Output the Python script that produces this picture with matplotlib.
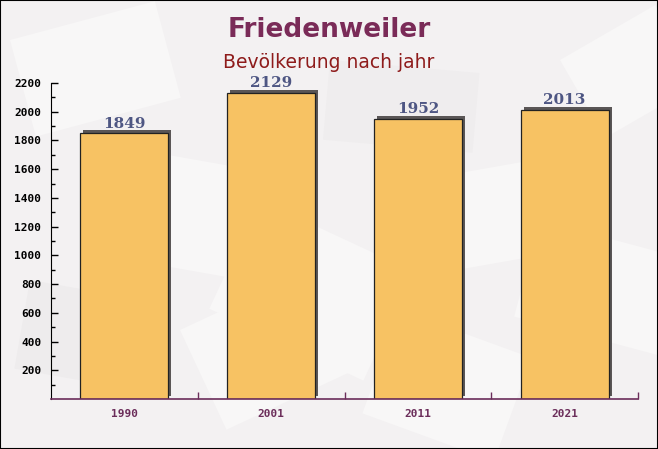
import matplotlib.pyplot as plt
import matplotlib.transforms as mtransforms
from matplotlib.patches import Rectangle
import numpy as np

# data
years = ['1990', '2001', '2011', '2021']
population = [1849, 2129, 1952, 2013]

title = 'Friedenweiler'
subtitle = 'Bevölkerung nach jahr'

bg = '#F3F1F2'
bar_color = '#F7C263'
shadow_color = '#5A5656'
label_color = '#4E5683'
axis_color = '#6B2D5A'

fig = plt.figure(figsize=(6.58, 4.49), dpi=100, facecolor=bg)

# faint envelope-like shapes in the background
bg_ax = fig.add_axes([0, 0, 1, 1], zorder=-1)
bg_ax.set_xlim(0, 658)
bg_ax.set_ylim(449, 0)
bg_ax.axis('off')
shapes = [
    (10, 40, 150, 100, -15, '#F8F7F7'), (140, 150, 130, 110, 10, '#F8F7F7'),
    (260, 200, 170, 120, 25, '#F8F7F7'), (420, 180, 130, 95, -10, '#F8F7F7'),
    (540, 220, 150, 100, 15, '#F8F7F7'), (180, 330, 160, 110, -25, '#F8F7F7'),
    (400, 310, 140, 110, 20, '#F8F7F7'), (560, 60, 110, 90, -30, '#F8F7F7'),
    (30, 280, 120, 90, 10, '#EEECED'), (330, 60, 150, 80, 5, '#EFEDEE'),
]
for sx, sy, sw, sh, ang, c in shapes:
    r = Rectangle((sx, sy), sw, sh, angle=ang, facecolor=c, edgecolor='none')
    bg_ax.add_patch(r)

ax = fig.add_axes([51 / 658, 1 - 399 / 449, 587 / 658, 316 / 449])
ax.set_facecolor('none')

x = np.arange(len(years))
w = 0.6

# shadow, shifted a few pixels right and up
shadow_tr = mtransforms.offset_copy(ax.transData, fig=fig, x=3, y=3, units='dots')
ax.bar(x, population, width=w, color=shadow_color, transform=shadow_tr, zorder=1)
ax.bar(x, population, width=w, color=bar_color, edgecolor='#222222', linewidth=0.9,
       zorder=2)

for xi, v in zip(x, population):
    ax.annotate(str(v), (xi, v), xytext=(0, 2), textcoords='offset points',
                ha='center', va='bottom', fontsize=11, fontweight='bold',
                family='DejaVu Serif', color=label_color, zorder=3)

ax.set_xlim(-0.5, len(years) - 0.5)
ax.set_ylim(0, 2200)
ax.set_yticks(np.arange(200, 2201, 200))
ax.set_yticks(np.arange(100, 2200, 100), minor=True)
ax.set_xticks(x)
ax.set_xticklabels(years)
ax.set_xticks(np.arange(0.5, len(years), 1), minor=True)

ax.tick_params(axis='y', which='major', direction='in', length=5, width=1, color='black',
               labelsize=8, labelcolor='black', pad=7)
ax.tick_params(axis='y', which='minor', direction='in', length=3, width=1, color='black')
ax.tick_params(axis='x', which='major', length=0, pad=7, labelsize=8, labelcolor=axis_color)
ax.tick_params(axis='x', which='minor', length=5, width=1, color=axis_color, direction='in')
for lab in ax.get_xticklabels() + ax.get_yticklabels():
    lab.set_family('DejaVu Sans Mono')
    lab.set_fontweight('bold')

ax.spines['top'].set_visible(False)
ax.spines['right'].set_visible(False)
ax.spines['left'].set_color('black')
ax.spines['bottom'].set_color(axis_color)
ax.spines['bottom'].set_linewidth(1.2)

fig.text(0.5, 1 - 30 / 449, title, ha='center', va='center', fontsize=19,
         fontweight='bold', color='#7A2B58')
fig.text(0.5, 1 - 62 / 449, subtitle, ha='center', va='center', fontsize=13.5,
         color='#8E1B1B')

# thin frame around the image
fig.add_artist(Rectangle((0, 0), 1, 1, transform=fig.transFigure, fill=False,
                         edgecolor='black', linewidth=1.5))

fig.savefig('out.png', dpi=100, facecolor=bg)
